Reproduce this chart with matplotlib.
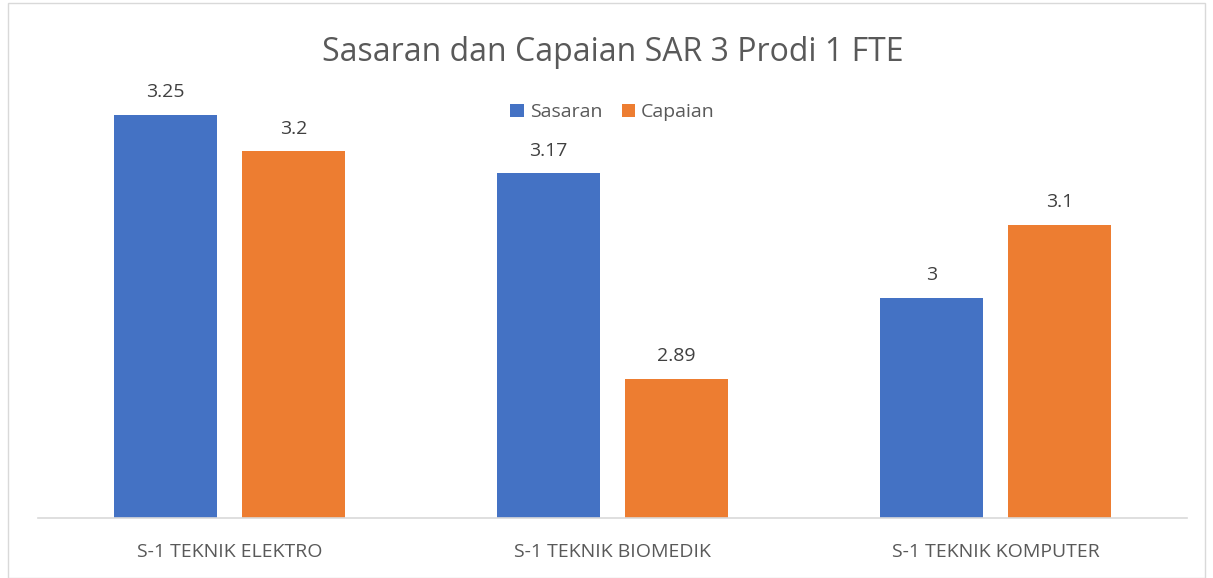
import numpy as np
import matplotlib.pyplot as plt
from matplotlib.patches import Rectangle

plt.rcParams['font.family'] = ['Open Sans', 'DejaVu Sans']

categories = ['S-1 TEKNIK ELEKTRO', 'S-1 TEKNIK BIOMEDIK', 'S-1 TEKNIK KOMPUTER']
sasaran = [3.25, 3.17, 3.0]
capaian = [3.2, 2.89, 3.1]
labels_sasaran = ['3.25', '3.17', '3']
labels_capaian = ['3.2', '2.89', '3.1']

blue = '#4472C4'
orange = '#ED7D31'
grey = '#595959'

fig = plt.figure(figsize=(12.13, 5.78), dpi=100)
fig.patches.append(Rectangle((0.007, 0.0), 0.986, 0.995, transform=fig.transFigure,
                             fill=False, edgecolor='#D9D9D9', linewidth=1))
ax = fig.add_axes([0.0313, 0.1038, 0.9473, 0.761])

x = np.arange(len(categories))
w = 0.267
b1 = ax.bar(x - 0.167, sasaran, w, color=blue, label='Sasaran')
b2 = ax.bar(x + 0.167, capaian, w, color=orange, label='Capaian')

for bars, labs in ((b1, labels_sasaran), (b2, labels_capaian)):
    for bar, lab in zip(bars, labs):
        ax.annotate(lab, (bar.get_x() + bar.get_width() / 2, bar.get_height()),
                    xytext=(0, 10), textcoords='offset points', ha='center', va='bottom',
                    fontsize=14, color='#404040')

ax.set_xlim(-0.5, 2.5)
ax.set_ylim(2.7, 3.3)
ax.set_yticks([])
ax.set_xticks(x)
ax.set_xticklabels(categories, fontsize=14, color=grey)
ax.tick_params(axis='x', length=0, pad=18)
for s in ['top', 'left', 'right']:
    ax.spines[s].set_visible(False)
ax.spines['bottom'].set_color('#D9D9D9')
ax.spines['bottom'].set_linewidth(1.2)

fig.text(0.505, 0.91, 'Sasaran dan Capaian SAR 3 Prodi 1 FTE', ha='center', va='center',
         fontsize=23, color=grey)
ax.legend(loc='center', bbox_to_anchor=(0.505, 0.806), ncol=2, frameon=False,
          fontsize=14, labelcolor=grey, handlelength=0.7, handleheight=0.7,
          columnspacing=1.0, handletextpad=0.3, bbox_transform=fig.transFigure)

fig.savefig('out.png', dpi=100)
